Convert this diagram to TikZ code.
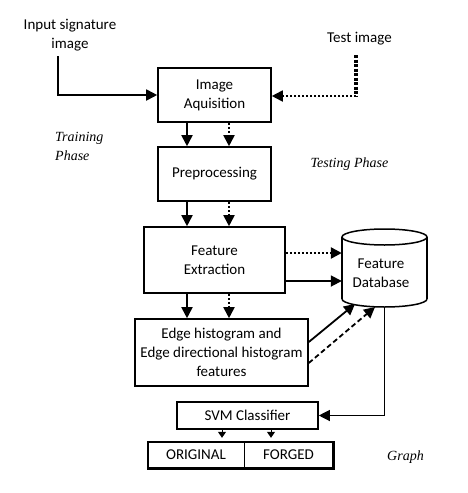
\documentclass[tikz,border=0pt]{standalone}
\usepackage{fontspec}
\setmainfont{Carlito}
\newfontfamily\serifit{Liberation Serif}
\usetikzlibrary{arrows.meta}
\begin{document}
\begin{tikzpicture}[x=1pt,y=-1pt,
  box/.style={draw, line width=1.6pt, inner sep=1pt, align=center, font=\fontsize{15}{19}\selectfont},
  lbl/.style={align=center, inner sep=0pt, font=\fontsize{15}{19}\selectfont},
  phase/.style={inner sep=0pt, align=left, font=\serifit\itshape\fontsize{14}{19}\selectfont},
  arr/.style={line width=1.8pt, -{Triangle[length=11pt,width=11pt]}},
  dotarr/.style={arr, dash pattern=on 2pt off 2pt},
  dasharr/.style={arr, dash pattern=on 5pt off 3pt},
]
\useasboundingbox[fill=white] (0,0) rectangle (467,493);

% boxes
\node[box, minimum width=113pt, minimum height=54pt] (acq) at (214.5,95) {Image\\Aquisition};
\node[box, minimum width=113pt, minimum height=54pt] (pre) at (214.5,174) {Preprocessing};
\node[box, minimum width=141pt, minimum height=66pt] (fe) at (214.5,260) {Feature\\Extraction};
\node[box, minimum width=173pt, minimum height=67pt] (edge) at (221.5,352.5) {Edge histogram and\\Edge directional histogram\\features};
\node[box, minimum width=141pt, minimum height=27pt] (svm) at (247.5,415.5) {SVM Classifier};
\node[lbl, minimum width=96pt, minimum height=26pt] (orig) at (196,455) {ORIGINAL};
\node[lbl, minimum width=89pt, minimum height=26pt] (forg) at (288.5,455) {FORGED};
\draw[line width=2.6pt] (orig.north west) rectangle (forg.south east);
\draw[line width=0.8pt] (orig.north east) -- (orig.south east);

% database cylinder
\node[minimum width=85pt, minimum height=78pt, inner sep=0pt] (db) at (384.5,268) {};
\draw[line width=1.5pt] (384.5,237) ellipse [x radius=42.5pt, y radius=8pt];
\draw[line width=1.5pt] (342,237) -- (342,299);
\draw[line width=1.5pt] (427,237) -- (427,299);
\draw[line width=1.5pt] (342,299) arc[start angle=180, end angle=360, x radius=42.5pt, y radius=8pt];
\node[lbl] (dbt) at (381,273.5) {Feature\\Database};

% texts
\node[lbl] (inp) at (70,35) {Input signature\\image};
\node[lbl] (test) at (359.5,39) {Test image};
\node[phase, anchor=west] (train) at (55,146.5) {Training\\Phase};
\node[phase] (testing) at (349.5,164) {Testing Phase};
\node[phase] (graph) at (405.5,457) {Graph};

% coordinates
\coordinate (sx) at (187,0);
\coordinate (dx) at (229,0);
\coordinate (inS) at (58,56);
\coordinate (tTop) at (356,55);
\coordinate (tCorner) at (356,96);
\coordinate (yDot) at (0,253);
\coordinate (ySol) at (0,281);
\coordinate (yA) at (0,342);
\coordinate (yB) at (0,363);
\coordinate (dA) at (355,304);
\coordinate (dB) at (375,307);
\coordinate (s1) at (222,0);
\coordinate (s2) at (271,0);

% connectors
\draw[arr] (inS) |- (acq.west);
\draw[line width=4pt, dash pattern=on 3pt off 1.5pt] (tTop) -- (tCorner);
\draw[dotarr] (tCorner) -- (acq.east |- tCorner);

\draw[arr] (acq.south -| sx) -- (pre.north -| sx);
\draw[dotarr] (acq.south -| dx) -- (pre.north -| dx);
\draw[arr] (pre.south -| sx) -- (fe.north -| sx);
\draw[dotarr] (pre.south -| dx) -- (fe.north -| dx);
\draw[arr] (fe.south -| sx) -- (edge.north -| sx);
\draw[dotarr] (fe.south -| dx) -- (edge.north -| dx);

\draw[dotarr, line width=2.4pt] (fe.east |- yDot) -- (db.west |- yDot);
\draw[arr] (fe.east |- ySol) -- (db.west |- ySol);

\draw[arr] (edge.east |- yA) -- (dA);
\draw[dasharr] (edge.east |- yB) -- (dB);

\draw[line width=1.2pt, -{Triangle[length=11pt,width=11pt]}] (db.south) |- (svm.east);

\draw[line width=1pt, -{Triangle[length=6pt,width=8pt]}, shorten >=4pt] (svm.south -| s1) -- (orig.north -| s1);
\draw[line width=1pt, -{Triangle[length=6pt,width=8pt]}, shorten >=4pt] (svm.south -| s2) -- (orig.north -| s2);
\end{tikzpicture}
\end{document}
